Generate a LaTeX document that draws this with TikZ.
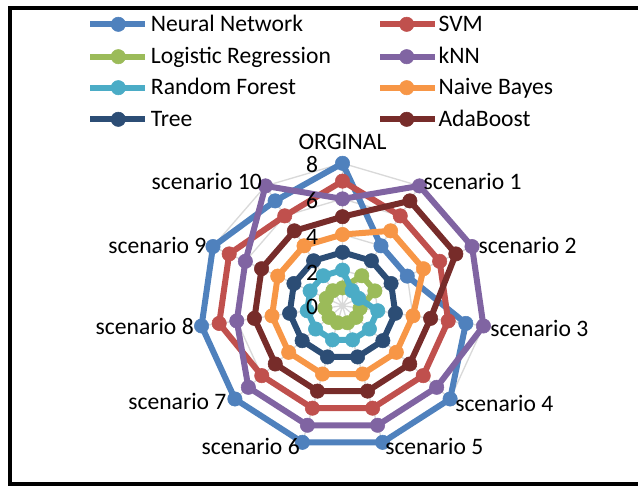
\documentclass[tikz,border=0pt]{standalone}
\usepackage{fontspec}
\setmainfont{Carlito}
\usepackage{tikz}
\usetikzlibrary{shapes.geometric}
\usepackage{xcolor}
\definecolor{nn}{HTML}{4F81BD}
\definecolor{svm}{HTML}{C0504D}
\definecolor{lr}{HTML}{9BBB59}
\definecolor{knn}{HTML}{8064A2}
\definecolor{rf}{HTML}{4BACC6}
\definecolor{nb}{HTML}{F79646}
\definecolor{dtree}{HTML}{2C4D75}
\definecolor{ada}{HTML}{772C2A}
\definecolor{gridgray}{HTML}{D9D9D9}
\tikzset{series/.style={draw=#1,line width=4.5pt,line join=round,mark=*,mark size=5.4pt,mark options={draw=#1,fill=#1,line width=0.4pt}}}
\tikzset{nn/.style={series=nn}}
\tikzset{svm/.style={series=svm}}
\tikzset{lr/.style={series=lr}}
\tikzset{knn/.style={series=knn}}
\tikzset{rf/.style={series=rf}}
\tikzset{nb/.style={series=nb}}
\tikzset{dtree/.style={series=dtree}}
\tikzset{ada/.style={series=ada}}
\tikzset{gridline/.style={draw=gridgray,line width=1pt}}
\tikzset{ring/.style={gridline,regular polygon,regular polygon sides=11,inner sep=0pt,outer sep=0pt}}
\tikzset{axlabel/.style={inner sep=0pt,font=\fontsize{17.7}{20}\selectfont}}
\tikzset{keytext/.style={inner sep=0pt,anchor=base west,font=\fontsize{17.7}{20}\selectfont}}

\begin{document}
\begin{tikzpicture}[x=0.75pt,y=0.75pt]
    \useasboundingbox (0,0) rectangle (638,486);
    \draw[line width=3pt] (641,478) -- (10,478) -- (10,2.5) -- (641,2.5);

    % legend
    \draw[nn] plot[mark indices={2}] coordinates {(90,461.7) (118.3,461.7) (145,461.7)};
    \node[keytext] (nnkey) at (150.7,454.3) {Neural Network};
    \draw[svm] plot[mark indices={2}] coordinates {(380,461.7) (406.7,461.7) (435,461.7)};
    \node[keytext] (svmkey) at (438.3,454.3) {SVM};
    \draw[lr] plot[mark indices={2}] coordinates {(90,429.3) (118.3,429.3) (145,429.3)};
    \node[keytext] (lrkey) at (150.7,422) {Logistic Regression};
    \draw[knn] plot[mark indices={2}] coordinates {(380,429.3) (406.7,429.3) (435,429.3)};
    \node[keytext] (knnkey) at (438.3,422) {kNN};
    \draw[rf] plot[mark indices={2}] coordinates {(90,398.3) (118.3,398.3) (145,398.3)};
    \node[keytext] (rfkey) at (150.7,391) {Random Forest};
    \draw[nb] plot[mark indices={2}] coordinates {(380,398.3) (406.7,398.3) (435,398.3)};
    \node[keytext] (nbkey) at (438.3,391) {Naive Bayes};
    \draw[dtree] plot[mark indices={2}] coordinates {(90,366.7) (118.3,366.7) (145,366.7)};
    \node[keytext] (dtreekey) at (150.7,359.4) {Tree};
    \draw[ada] plot[mark indices={2}] coordinates {(380,366.7) (406.7,366.7) (435,366.7)};
    \node[keytext] (adakey) at (438.3,359.4) {AdaBoost};

    \begin{scope}[shift={(342.5,180.3)},x=13.35pt,y=13.35pt]
        \coordinate (o) at (0,0);
        % grid rings at 2, 4, 6, 8 and the spokes
        \node[ring,minimum size=53.4pt] (g2) at (o) {};
        \node[ring,minimum size=106.8pt] (g4) at (o) {};
        \node[ring,minimum size=160.2pt] (g6) at (o) {};
        \node[ring,minimum size=213.6pt] (g8) at (o) {};
        \draw[gridline] (o) -- (g8.corner 1) (o) -- (g8.corner 2) (o) -- (g8.corner 3)
            (o) -- (g8.corner 4) (o) -- (g8.corner 5) (o) -- (g8.corner 6)
            (o) -- (g8.corner 7) (o) -- (g8.corner 8) (o) -- (g8.corner 9)
            (o) -- (g8.corner 10) (o) -- (g8.corner 11);

        % one closed line per classifier
        \draw[nn] plot coordinates {(90:8) (57.27:4) (24.55:4) (-8.18:7) (-40.91:8) (-73.64:8) (-106.36:8) (-139.09:8) (-171.82:8) (155.45:8) (122.73:7)} -- cycle;
        \draw[svm] plot coordinates {(90:7) (57.27:6) (24.55:6) (-8.18:6) (-40.91:6) (-73.64:6) (-106.36:6) (-139.09:6) (-171.82:7) (155.45:7) (122.73:6)} -- cycle;
        \draw[lr] plot coordinates {(90:1) (57.27:2) (24.55:2) (-8.18:1) (-40.91:1) (-73.64:1) (-106.36:1) (-139.09:1) (-171.82:1) (155.45:1) (122.73:1)} -- cycle;
        \draw[knn] plot coordinates {(90:6) (57.27:8) (24.55:8) (-8.18:8) (-40.91:7) (-73.64:7) (-106.36:7) (-139.09:7) (-171.82:6) (155.45:6) (122.73:8)} -- cycle;
        \draw[rf] plot coordinates {(90:2) (57.27:1) (24.55:1) (-8.18:2) (-40.91:2) (-73.64:2) (-106.36:2) (-139.09:2) (-171.82:2) (155.45:2) (122.73:2)} -- cycle;
        \draw[nb] plot coordinates {(90:4) (57.27:5) (24.55:5) (-8.18:4) (-40.91:4) (-73.64:4) (-106.36:4) (-139.09:4) (-171.82:4) (155.45:4) (122.73:4)} -- cycle;
        \draw[dtree] plot coordinates {(90:3) (57.27:3) (24.55:3) (-8.18:3) (-40.91:3) (-73.64:3) (-106.36:3) (-139.09:3) (-171.82:3) (155.45:3) (122.73:3)} -- cycle;
        \draw[ada] plot coordinates {(90:5) (57.27:7) (24.55:7) (-8.18:5) (-40.91:5) (-73.64:5) (-106.36:5) (-139.09:5) (-171.82:5) (155.45:5) (122.73:5)} -- cycle;
    \end{scope}

    % value axis
    \node[axlabel] (v8) at (312,321) {8};
    \node[axlabel] (v6) at (312,285) {6};
    \node[axlabel] (v4) at (312,249.3) {4};
    \node[axlabel] (v2) at (312,213.3) {2};
    \node[axlabel] (v0) at (312,179.3) {0};

    % category labels
    \node[axlabel] (orig) at (342.5,344) {ORGINAL};
    \node[axlabel,anchor=west] (s1) at (423.3,304.3) {scenario 1};
    \node[axlabel,anchor=west] (s2) at (478.3,241) {scenario 2};
    \node[axlabel,anchor=west] (s3) at (490,157.7) {scenario 3};
    \node[axlabel,anchor=west] (s4) at (455,82.7) {scenario 4};
    \node[axlabel,anchor=west] (s5) at (385,39.3) {scenario 5};
    \node[axlabel,anchor=east] (s6) at (300,39.3) {scenario 6};
    \node[axlabel,anchor=east] (s7) at (226.7,84.3) {scenario 7};
    \node[axlabel,anchor=east] (s8) at (194,159.3) {scenario 8};
    \node[axlabel,anchor=east] (s9) at (206.7,241) {scenario 9};
    \node[axlabel,anchor=east] (s10) at (262,304.3) {scenario 10};
\end{tikzpicture}
\end{document}
